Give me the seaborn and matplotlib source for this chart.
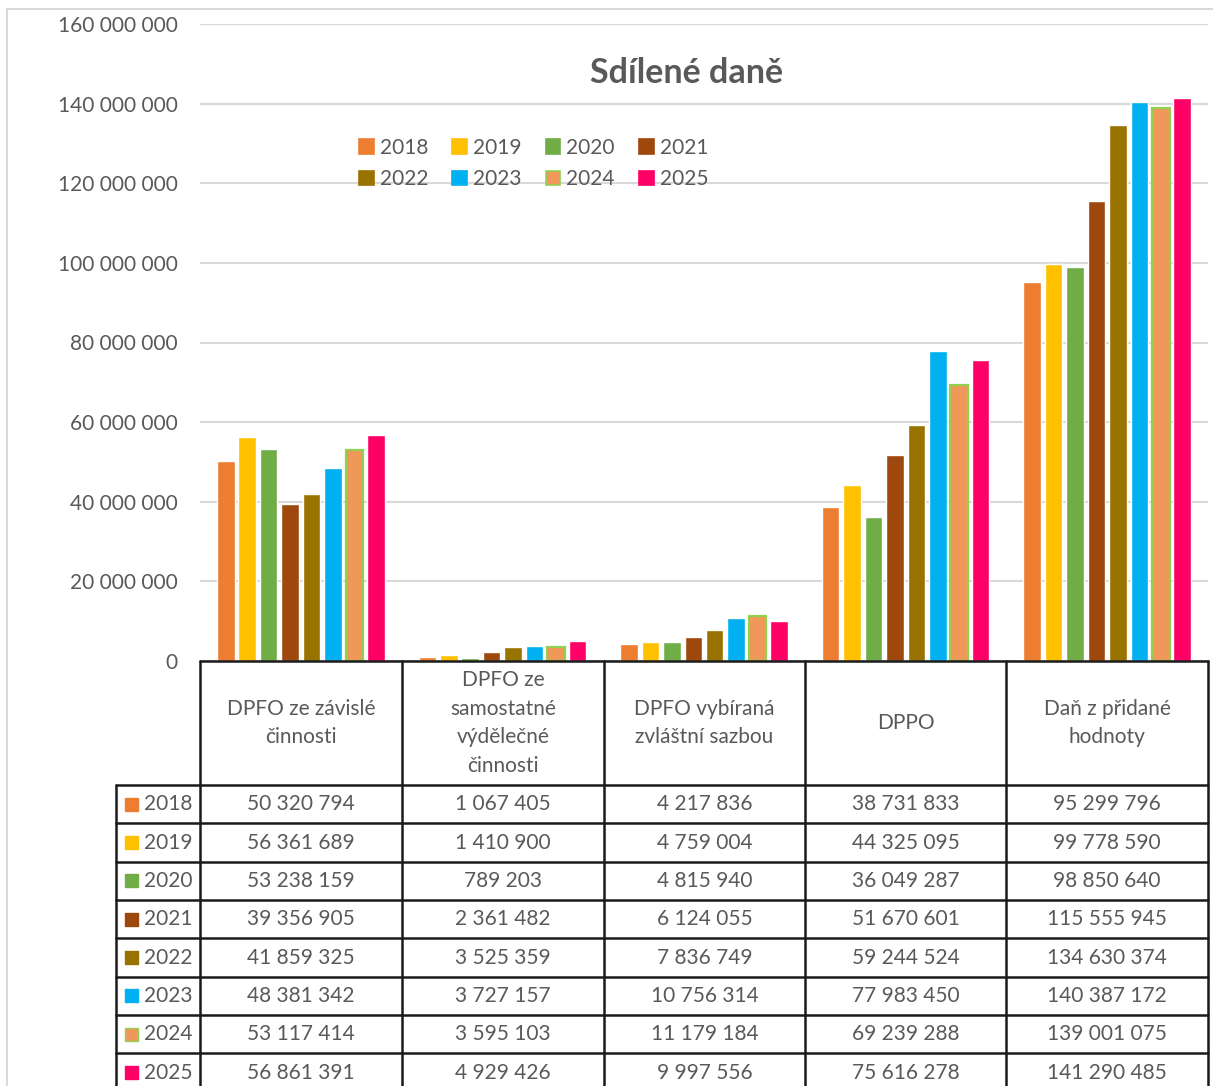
import pandas as pd
import numpy as np
import matplotlib.pyplot as plt
import seaborn as sns
from matplotlib.patches import Patch, Rectangle
from matplotlib.lines import Line2D
from matplotlib.ticker import FuncFormatter

categories = ['DPFO ze závislé\nčinnosti', 'DPFO ze\nsamostatné\nvýdělečné\nčinnosti',
              'DPFO vybíraná\nzvláštní sazbou', 'DPPO', 'Daň z přidané\nhodnoty']
years = ['2018', '2019', '2020', '2021', '2022', '2023', '2024', '2025']

dpfo_zavisle = [50320794, 56361689, 53238159, 39356905, 41859325, 48381342, 53117414, 56861391]
dpfo_samostatne = [1067405, 1410900, 789203, 2361482, 3525359, 3727157, 3595103, 4929426]
dpfo_zvlastni = [4217836, 4759004, 4815940, 6124055, 7836749, 10756314, 11179184, 9997556]
dppo = [38731833, 44325095, 36049287, 51670601, 59244524, 77983450, 69239288, 75616278]
dph = [95299796, 99778590, 98850640, 115555945, 134630374, 140387172, 139001075, 141290485]

colors = ['#ED7D31', '#FFC000', '#70AD47', '#9E480E', '#997300', '#00B0F0', '#F0975A', '#FF0066']
edge_2024 = '#92D050'

series = [dpfo_zavisle, dpfo_samostatne, dpfo_zvlastni, dppo, dph]
rows = []
for cat, vals in zip(categories, series):
    for y, v in zip(years, vals):
        rows.append({'kat': cat, 'rok': y, 'hodnota': v})
df = pd.DataFrame(rows)

W, H = 1213, 1086
def fx(px):
    return px / W
def fy(py):
    return 1 - py / H

sns.set_style('white')
plt.rcParams['font.family'] = ['Lato', 'DejaVu Sans']
txt = '#595959'

fig = plt.figure(figsize=(12.13, 10.86), dpi=100)
ax = fig.add_axes([fx(200), fy(661), fx(1208) - fx(200), fy(24) - fy(661)])

sns.barplot(data=df, x='kat', y='hodnota', hue='rok', order=categories, hue_order=years,
            palette=colors, width=0.85, gap=0.18, ax=ax, legend=False, saturation=1)
for bar in ax.containers[6]:
    bar.set_edgecolor(edge_2024)
    bar.set_linewidth(1.6)

ax.set_xlim(-0.5, 4.5)
ax.set_ylim(0, 160000000)
ax.set_yticks(np.arange(0, 160000001, 20000000))
ax.yaxis.set_major_formatter(FuncFormatter(lambda v, p: f'{int(v):,}'.replace(',', ' ')))
ax.tick_params(axis='y', length=0, pad=16, labelsize=15, labelcolor=txt)
ax.set_xticks([])
ax.set_xlabel('')
ax.set_ylabel('')
ax.grid(axis='y', color='#D9D9D9', linewidth=1.5)
ax.set_axisbelow(True)
for s in ax.spines.values():
    s.set_visible(False)

ax.text(0.483, 0.923, 'Sdílené daně', transform=ax.transAxes, ha='center', va='center',
        fontsize=24.5, fontweight='bold', color=txt)

# legend filled row by row (matplotlib fills column by column)
handles = [Patch(facecolor=c, edgecolor=(edge_2024 if y == '2024' else c), linewidth=1.2)
           for c, y in zip(colors, years)]
order = [0, 4, 1, 5, 2, 6, 3, 7]
ax.legend([handles[i] for i in order], [years[i] for i in order], ncol=4, loc='center',
          bbox_to_anchor=(0.331, 0.781), frameon=False,
          fontsize=15, labelcolor=txt, handlelength=0.7, handleheight=0.7, handletextpad=0.3,
          columnspacing=1.15, labelspacing=0.55)

# outer chart frame
fig.add_artist(Line2D([fx(7), fx(7)], [fy(9), fy(1086)], color='#D9D9D9', lw=1.5))
fig.add_artist(Line2D([fx(7), fx(1213)], [fy(9), fy(9)], color='#D9D9D9', lw=1.5))

# data table under the chart
col_x = [200, 402, 604, 805, 1006, 1208]
row_y = [785 + 38.35 * i for i in range(9)]
lc = '#1a1a1a'
fig.add_artist(Line2D([fx(200), fx(1208)], [fy(661), fy(661)], color=lc, lw=1.8))
for x in col_x:
    fig.add_artist(Line2D([fx(x), fx(x)], [fy(661), fy(1086)], color=lc, lw=1.8))
fig.add_artist(Line2D([fx(116), fx(116)], [fy(785), fy(1086)], color=lc, lw=1.8))
for y in row_y:
    fig.add_artist(Line2D([fx(116), fx(1208)], [fy(y), fy(y)], color=lc, lw=1.8))

for i, cat in enumerate(categories):
    cx = (col_x[i] + col_x[i + 1]) / 2
    fig.text(fx(cx), fy(723), cat, ha='center', va='center', fontsize=15, color=txt,
             linespacing=1.55)

for r, y in enumerate(years):
    cy = (row_y[r] + row_y[r + 1]) / 2
    fig.add_artist(Rectangle((fx(125), fy(cy + 6.5)), 13 / W, 13 / H, facecolor=colors[r],
                             edgecolor=(edge_2024 if y == '2024' else colors[r]), lw=1.0))
    fig.text(fx(144), fy(cy), y, ha='left', va='center', fontsize=15, color=txt)
    for i, vals in enumerate(series):
        cx = (col_x[i] + col_x[i + 1]) / 2
        fig.text(fx(cx), fy(cy), f'{vals[r]:,}'.replace(',', ' '), ha='center', va='center',
                 fontsize=15, color=txt)

fig.savefig('out.png', dpi=100)
